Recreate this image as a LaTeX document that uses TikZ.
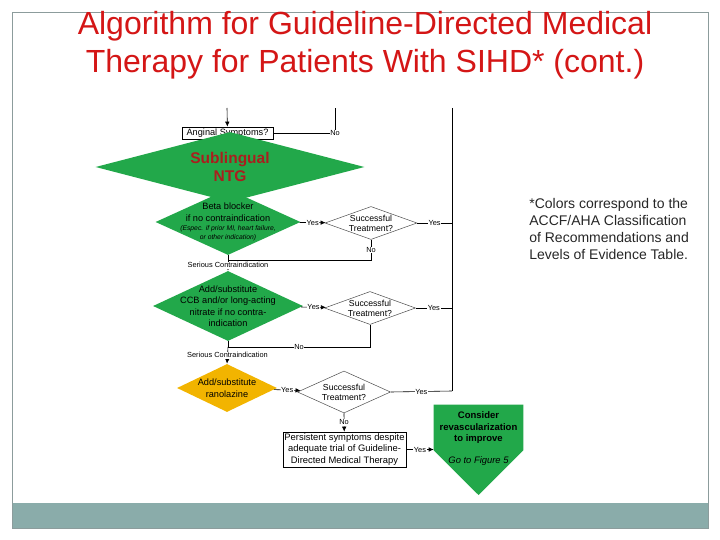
\documentclass[tikz,border=0pt]{standalone}
\usepackage{fontspec}
\setmainfont{Liberation Sans}
\usetikzlibrary{shapes.geometric,arrows.meta,positioning}
\definecolor{corgreen}{RGB}{34,168,74}
\definecolor{corgold}{RGB}{242,180,0}
\definecolor{titlered}{RGB}{212,22,22}
\definecolor{ntgred}{RGB}{170,30,30}
\definecolor{bandgray}{RGB}{138,172,170}
\definecolor{framegray}{RGB}{140,156,156}

\begin{document}
\begin{tikzpicture}[x=1pt,y=-1pt,line width=0.6pt,
  dec/.style={diamond, draw=black!70, fill=white, inner sep=0pt, line width=0.5pt},
  cls/.style={diamond, fill=corgreen, inner sep=0pt},
  clsb/.style={diamond, fill=corgold, inner sep=0pt},
  box/.style={rectangle, draw, fill=white, inner sep=0pt},
  txt/.style={align=center, inner sep=0pt, font=\fontsize{9.2}{11.5}\selectfont},
  qtxt/.style={align=center, inner sep=0pt, font=\fontsize{8.7}{10}\selectfont},
  lab/.style={fill=white, inner sep=0.6pt, font=\fontsize{7.4}{8}\selectfont},
  arr/.style={-{Latex[length=5pt,width=4.5pt]}}]

\useasboundingbox (0,0) rectangle (720,540);
\fill[bandgray] (12,503) rectangle (708,528);
\draw[framegray, line width=0.8pt] (12,12) rectangle (708,528);

\node[align=center, text=titlered, font=\fontsize{32}{38}\selectfont] (title) at (365,45)
  {Algorithm for Guideline-Directed Medical\\Therapy for Patients With SIHD* (cont.)};

\node[align=left, anchor=north west, inner sep=0pt, text=black!85, font=\fontsize{14}{17}\selectfont] (note) at (529,198)
  {*Colors correspond to the\\ACCF/AHA Classification\\of Recommendations and\\Levels of Evidence Table.};

\coordinate (in1) at (227,108);
\coordinate (in2) at (335,108);
\coordinate (in3) at (452,108);
\coordinate (c2) at (335,133);

\node[cls, minimum width=145, minimum height=66,
  label={[txt]center:{Beta blocker\\if no contraindication\\[-2pt]{\fontsize{6.8}{8}\selectfont\itshape (Espec. if prior MI, heart failure,}\\[-3pt]{\fontsize{6.8}{8}\selectfont\itshape or other indication)}}}] (d1) at (228,222) {};
\node[box, minimum width=91, minimum height=12, font=\fontsize{9.2}{10}\selectfont] (ang) at (227.5,133) {Anginal Symptoms?};
\node[cls, minimum width=269, minimum height=70,
  label={[align=center, text=ntgred, font=\fontsize{15.5}{18}\selectfont\bfseries]center:{Sublingual\\NTG}}] (ntg) at (230,167) {};

\draw[arr] (in1) -- (ang);
\draw (ang) -- (c2) -- (in2);
\node[lab] (no0) at (c2) {No};

\node[dec, minimum width=92, minimum height=33, label={[qtxt]center:{Successful\\Treatment?}}] (s1) at (371,223) {};
\node[cls, minimum width=150, minimum height=70,
  label={[txt]center:{Add/substitute\\CCB and/or long-acting\\nitrate if no contra-\\indication}}] (d2) at (228,306) {};
\node[dec, minimum width=91, minimum height=33, label={[qtxt]center:{Successful\\Treatment?}}] (s2) at (370,308) {};
\node[clsb, minimum width=100, minimum height=48,
  label={[txt]center:{Add/substitute\\ranolazine}}] (d3) at (227,388) {};
\node[dec, minimum width=93, minimum height=42, label={[qtxt]center:{Successful\\Treatment?}}] (s3) at (344,392) {};
\node[box, minimum width=123, minimum height=35, align=center, font=\fontsize{9.4}{11.5}\selectfont] (pb) at (344.5,449.5)
  {Persistent symptoms despite\\adequate trial of Guideline-\\Directed Medical Therapy};

\node[inner sep=0pt, minimum width=89, minimum height=45] (rv) at (478.5,427.5) {};
\coordinate (tip) at (478.5,495);
\fill[corgreen] (rv.north west) -- (rv.north east) -- (rv.south east) -- (tip) -- (rv.south west) -- cycle;
\node[align=center, inner sep=0pt, font=\fontsize{9.5}{11.5}\selectfont\bfseries] (rvt) at (478.5,428) {Consider\\revascularization\\to improve};
\node[inner sep=0pt, font=\fontsize{9.4}{11}\selectfont\itshape] (fig5) at (478.5,461) {Go to Figure 5};

\coordinate (r1) at (452,223);
\coordinate (r2) at (452,308);
\coordinate (r3) at (452,391);
\coordinate (j1) at (371,260);
\coordinate (k1) at (228,260);
\coordinate (j2) at (370,347);
\coordinate (k2) at (228,347);

\draw[arr] (d1) -- node[lab] {Yes} (s1);
\draw (s1.east) -- node[lab] {Yes} (r1);
\draw (s1.south) -- node[lab] {No} (j1) -- (k1);
\draw (d1.south) -- (k1);
\draw[arr] (k1) -- node[lab] {Serious Contraindication} (d2.north);

\draw[arr] (d2) -- node[lab] {Yes} (s2);
\draw (s2.east) -- node[lab] {Yes} (r2);
\draw (s2.south) -- (j2) -- node[lab] {No} (k2);
\draw (d2.south) -- (k2);
\draw[arr] (k2) -- node[lab] {Serious Contraindication} (d3.north);

\draw[arr] (d3) -- node[lab] {Yes} (s3);
\draw (s3.east) -- node[lab] {Yes} (r3);
\draw[arr] (s3.south) -- node[lab] {No} (pb);
\draw (in3) -- (r3);

\draw[arr] (pb) -- node[lab] {Yes} (pb -| rv.west);

\end{tikzpicture}
\end{document}
